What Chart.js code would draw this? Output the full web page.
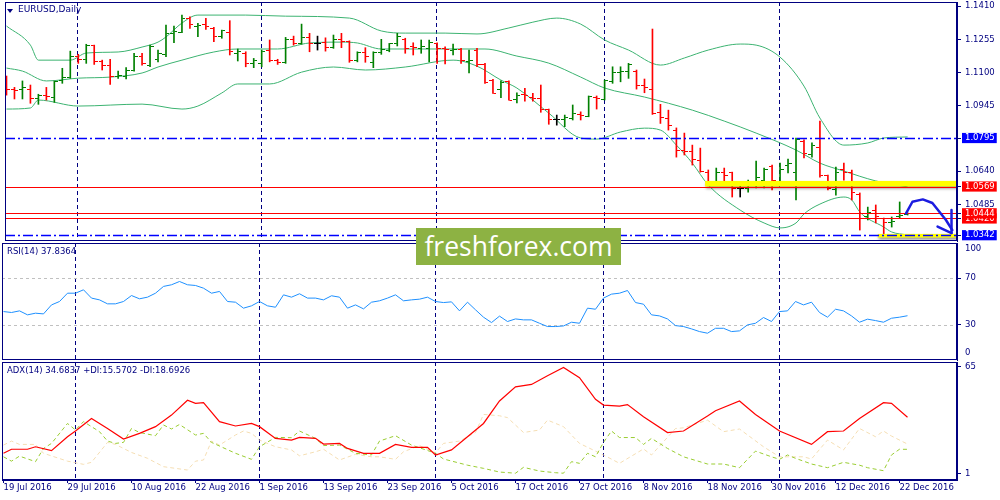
<!DOCTYPE html>
<html>
<head>
<meta charset="utf-8">
<title>EURUSD Daily</title>
<script src="https://cdn.jsdelivr.net/npm/chart.js@4.4.1/dist/chart.umd.min.js"></script>
<style>
  html, body { margin: 0; padding: 0; background: #fff; }
  #stage { position: relative; width: 1000px; height: 500px; overflow: hidden; background: #fff; font-family: "DejaVu Sans", sans-serif; }
  .pane { position: absolute; left: 0; width: 1000px; }
  .hdr { position: absolute; font-size: 8.5px; color: #000080; white-space: nowrap; line-height: 11px; }
  #tri { position: absolute; left: 7px; top: 9px; width: 0; height: 0; border-left: 3px solid transparent; border-right: 3px solid transparent; border-top: 4px solid #000080; }
  #wm { position: absolute; left: 416px; top: 228px; width: 205px; height: 37px; background: #8db243; color: #fff; font-family: "Open Sans", sans-serif; font-size: 26.5px; line-height: 37px; text-align: center; }
</style>
</head>
<body>
<div id="stage">
  <div class="pane" style="top:-10px;height:263px"><canvas id="priceChart"></canvas></div>
  <div class="pane" style="top:231px;height:141px"><canvas id="rsiChart"></canvas></div>
  <div class="pane" style="top:350px;height:150px"><canvas id="adxChart"></canvas></div>
  <div id="tri"></div>
  <div class="hdr" style="left:18px;top:4px;font-size:9px">EURUSD,Daily</div>
  <div class="hdr" style="left:7px;top:246px">RSI(14) 37.8364</div>
  <div class="hdr" style="left:7px;top:365px">ADX(14) 34.6837 +DI:15.5702 -DI:18.6926</div>
  <div id="wm">freshforex.com</div>
</div>
<script>
// dates on the time axis, one label every 8 bars
var dateLabels = ["19 Jul 2016", "29 Jul 2016", "10 Aug 2016", "22 Aug 2016", "1 Sep 2016",
  "13 Sep 2016", "23 Sep 2016", "5 Oct 2016", "17 Oct 2016", "27 Oct 2016", "8 Nov 2016",
  "18 Nov 2016", "30 Nov 2016", "12 Dec 2016", "22 Dec 2016"];
var monthStarts = [9, 32, 54, 75, 97];

// daily EURUSD bars
var opens = [1.1031,1.1022,1.1022,1.1019,1.0977,1.0992,1.0985,1.1065,1.1078,1.1174,
  1.1162,1.1225,1.1150,1.1135,1.1084,1.1081,1.1112,1.1177,1.1135,1.1162,
  1.1182,1.1283,1.1288,1.1353,1.1317,1.1326,1.1306,1.1267,1.1288,1.1190,
  1.1190,1.1143,1.1143,1.1202,1.1158,1.1148,1.1255,1.1236,1.1264,1.1236,
  1.1239,1.1216,1.1252,1.1244,1.1158,1.1194,1.1148,1.1192,1.1205,1.1236,
  1.1255,1.1220,1.1213,1.1213,1.1236,1.1213,1.1205,1.1208,1.1150,1.1205,
  1.1138,1.1061,1.1019,1.1057,1.0975,1.0999,1.0983,1.0977,1.0929,1.0883,
  1.0883,1.0887,1.0905,1.0897,1.0985,1.0975,1.1057,1.1099,1.1104,1.1104,
  1.1042,1.1019,1.0913,1.0887,1.0832,1.0739,1.0730,1.0692,1.0636,1.0590,
  1.0632,1.0632,1.0562,1.0562,1.0590,1.0599,1.0660,1.0590,1.0669,1.0632,
  1.0781,1.0720,1.0753,1.0618,1.0557,1.0646,1.0636,1.0534,1.0427,1.0459,
  1.0422,1.0399,1.0427,1.0440];
var highs = [1.1084,1.1031,1.1061,1.1042,1.0999,1.1031,1.1061,1.1120,1.1200,1.1185,
  1.1232,1.1228,1.1158,1.1162,1.1107,1.1123,1.1190,1.1190,1.1228,1.1205,
  1.1321,1.1317,1.1368,1.1360,1.1329,1.1353,1.1311,1.1298,1.1342,1.1210,
  1.1197,1.1166,1.1205,1.1252,1.1162,1.1264,1.1270,1.1326,1.1283,1.1270,
  1.1262,1.1275,1.1283,1.1248,1.1197,1.1216,1.1197,1.1255,1.1236,1.1283,
  1.1260,1.1239,1.1252,1.1252,1.1239,1.1220,1.1233,1.1213,1.1205,1.1213,
  1.1143,1.1068,1.1061,1.1061,1.1006,1.1027,1.1003,1.1042,1.0930,1.0902,
  1.0902,1.0949,1.0917,1.0991,1.0991,1.1065,1.1127,1.1127,1.1143,1.1112,
  1.1070,1.1303,1.0952,1.0925,1.0842,1.0818,1.0762,1.0748,1.0646,1.0655,
  1.0655,1.0636,1.0585,1.0599,1.0688,1.0655,1.0669,1.0678,1.0697,1.0795,
  1.0786,1.0772,1.0874,1.0622,1.0660,1.0678,1.0646,1.0539,1.0473,1.0483,
  1.0422,1.0427,1.0497,1.0446];
var lows = [1.0995,1.0977,1.0977,1.0957,1.0952,1.0972,1.0961,1.1050,1.1073,1.1143,
  1.1143,1.1138,1.1112,1.1045,1.1073,1.1070,1.1107,1.1135,1.1127,1.1150,
  1.1174,1.1239,1.1286,1.1306,1.1267,1.1301,1.1244,1.1260,1.1182,1.1154,
  1.1127,1.1123,1.1127,1.1150,1.1138,1.1143,1.1228,1.1232,1.1197,1.1205,
  1.1200,1.1213,1.1216,1.1148,1.1150,1.1148,1.1123,1.1185,1.1197,1.1224,
  1.1190,1.1182,1.1190,1.1150,1.1143,1.1140,1.1182,1.1143,1.1099,1.1127,
  1.1050,1.1003,1.0983,1.0972,1.0959,1.0967,1.0967,1.0915,1.0859,1.0855,
  1.0848,1.0879,1.0879,1.0894,1.0930,1.0972,1.1050,1.1057,1.1073,1.1023,
  1.1006,1.0905,1.0863,1.0832,1.0706,1.0716,1.0669,1.0636,1.0576,1.0585,
  1.0585,1.0520,1.0520,1.0543,1.0562,1.0562,1.0553,1.0576,1.0632,1.0506,
  1.0702,1.0706,1.0613,1.0553,1.0529,1.0599,1.0506,1.0366,1.0413,1.0399,
  1.0343,1.0380,1.0422,1.0436];
var closes = [1.1019,1.1015,1.1031,1.0977,1.0992,1.0987,1.1057,1.1078,1.1174,1.1162,
  1.1225,1.1150,1.1135,1.1084,1.1088,1.1112,1.1177,1.1143,1.1220,1.1190,
  1.1283,1.1290,1.1353,1.1326,1.1321,1.1317,1.1267,1.1294,1.1197,1.1197,
  1.1143,1.1158,1.1197,1.1158,1.1146,1.1255,1.1236,1.1264,1.1236,1.1236,
  1.1216,1.1255,1.1244,1.1158,1.1194,1.1174,1.1192,1.1208,1.1236,1.1267,
  1.1213,1.1216,1.1220,1.1241,1.1213,1.1208,1.1207,1.1154,1.1154,1.1138,
  1.1054,1.1003,1.1053,1.0972,1.0995,1.0991,1.0977,1.0929,1.0882,1.0883,
  1.0891,1.0910,1.0899,1.0987,1.0980,1.1062,1.1099,1.1104,1.1140,1.1042,
  1.1031,1.0910,1.0890,1.0852,1.0739,1.0730,1.0697,1.0641,1.0590,1.0632,
  1.0622,1.0562,1.0562,1.0590,1.0613,1.0646,1.0599,1.0646,1.0678,1.0790,
  1.0725,1.0762,1.0618,1.0562,1.0636,1.0636,1.0539,1.0422,1.0450,1.0427,
  1.0399,1.0408,1.0436,1.0444];

// Bollinger bands, read at the bars where they bend
var upperIdx = [0,3,4,8,10,14,17,19,20,22,24,30,35,43,47,50,55,59,63,66,69,72,75,78,82,85,88,92,94,97,100,102,105,108,110,113];
var upperVal = [1.1317,1.1228,1.1158,1.1158,1.1191,1.1196,1.1219,1.1242,1.1266,1.1331,1.1368,1.1368,1.1363,1.1354,1.1294,1.1284,1.1284,1.1280,1.1308,1.1335,1.1354,1.1326,1.1252,1.1205,1.1135,1.1168,1.1205,1.1233,1.1228,1.1172,1.1037,1.0888,1.0762,1.0772,1.0795,1.0800];
var middleIdx = [0,2,5,9,13,17,19,22,26,29,34,38,42,44,47,55,60,64,68,72,75,80,86,90,94,99,102,105,109,113];
var middleVal = [1.1121,1.1107,1.1061,1.1074,1.1079,1.1098,1.1126,1.1158,1.1196,1.1210,1.1210,1.1238,1.1242,1.1238,1.1210,1.1210,1.1210,1.1177,1.1144,1.1079,1.1028,1.0986,1.0925,1.0874,1.0818,1.0739,1.0678,1.0641,1.0595,1.0567];
var lowerIdx = [0,3,4,9,17,22,24,27,29,33,37,41,45,50,56,59,62,64,68,72,74,77,80,82,84,86,88,92,95,97,99,100,102,105,106,107,110,111,113];
var lowerVal = [1.0930,1.0935,1.0972,1.0944,1.0953,1.0930,1.0944,1.1005,1.1047,1.1047,1.1102,1.1126,1.1112,1.1126,1.1158,1.1130,1.1065,1.1028,1.0911,1.0795,1.0790,1.0823,1.0841,1.0832,1.0762,1.0678,1.0576,1.0459,1.0399,1.0376,1.0399,1.0441,1.0487,1.0520,1.0506,1.0450,1.0380,1.0357,1.0343];

// support / resistance levels and right scale
var redLevels = [1.0569, 1.0444, 1.0420];
var blueLevels = [1.0795, 1.0342];
var priceTicks = [1.0342, 1.0420, 1.0444, 1.0485, 1.0569, 1.0640, 1.0795, 1.0945, 1.1100, 1.1255, 1.1410];
var redBoxes = [1.0569, 1.0444, 1.0420];
var blueBoxes = [1.0795, 1.0342];

// yellow marker zones: start bar, top price, bottom price
var zoneStart = [87.6, 109.25];
var zoneTop = [1.0595, 1.0348];
var zoneBottom = [1.0569, 1.0331];

// hand drawn forecast arrow, in bar / price units
var arrowPath = [[112.8,1.0444],[113.6,1.0498],[114.9,1.0509],[116.1,1.0492],[117.8,1.0413],[118.6,1.0366]];
var arrowHeadA = [[118.5,1.0459],[118.5,1.0352]];
var arrowHeadB = [[116.75,1.0382],[118.5,1.0352]];

// RSI(14), one value per bar
var rsi = [41.4,40.6,42.0,38.6,40.0,39.4,47.1,50.0,57.1,57.1,
  60.0,52.9,51.4,48.0,48.0,50.0,55.1,52.3,53.7,57.1,
  62.9,64.3,67.1,64.3,63.7,61.4,57.1,58.6,50.0,49.4,
  44.3,46.3,50.0,46.3,45.1,55.7,53.7,56.6,52.9,52.9,
  51.4,54.9,53.7,44.3,47.1,43.7,49.4,50.6,52.9,55.7,
  50.6,51.4,52.0,53.7,50.0,49.1,49.7,42.0,49.4,42.9,
  36.6,32.0,37.5,32.9,35.1,34.3,34.3,31.4,28.6,28.6,
  29.1,32.3,31.4,44.3,43.4,52.9,56.3,57.1,59.4,49.1,
  47.7,38.6,37.7,35.1,29.4,28.6,26.6,24.3,22.9,27.1,
  27.1,24.3,24.9,30.0,31.4,36.3,32.9,41.4,42.0,50.0,
  47.1,49.4,40.6,36.6,43.4,42.0,37.7,32.3,34.9,33.7,
  32.3,35.7,36.6,37.84];
var rsiLevels = [70, 30];

// ADX(14) with +DI / -DI
var adxIdx = [0,1,3,4,6,8,9,11,13,15,17,19,21,23,24,25,27,29,31,32,34,36,37,39,40,42,43,45,47,49,51,53,54,56,58,60,62,64,66,68,70,72,74,75,77,78,80,83,85,88,89,92,94,97,101,103,105,107,110,111,113];
var adxVal = [13.2,15.6,15.6,17.1,14.8,23.1,26.5,34.0,28.0,21.7,25.1,29.1,36.0,44.9,43.0,43.4,32.1,29.5,31.0,29.1,22.1,21.1,22.7,22.1,18.7,19.1,16.1,13.2,13.2,18.5,16.7,16.7,12.2,15.2,23.1,31.0,44.4,52.9,54.3,59.5,64.4,58.3,45.4,42.0,41.4,42.3,35.0,25.6,26.5,35.4,38.6,44.4,36.4,26.5,18.5,26.1,26.5,34.0,43.4,43.0,34.68];
var pdiIdx = [0,1,2,4,5,6,8,9,10,12,13,14,15,16,17,19,20,21,22,24,25,26,29,31,32,34,36,37,39,40,42,44,46,47,49,51,52,54,55,58,60,62,64,65,67,69,70,71,72,73,74,75,76,77,79,80,81,83,85,88,90,92,94,96,97,98,99,101,103,105,107,108,110,111,112,113];
var pdiVal = [11.1,8.5,11.5,8.2,16.1,19.1,31.0,27.1,32.1,26.1,20.5,19.1,19.7,28.0,25.6,23.7,30.1,27.7,30.4,24.1,25.1,19.7,13.2,9.6,17.1,22.7,22.5,26.5,22.1,17.8,18.1,13.2,12.2,20.5,23.7,18.1,16.5,13.2,9.8,6.1,4.2,2.0,1.3,4.8,2.6,1.6,1.3,8.2,7.2,13.2,11.1,19.7,26.5,22.6,22.6,18.5,22.1,16.1,11.1,6.8,6.8,4.6,14.5,11.1,9.6,12.2,10.2,6.8,4.6,7.8,6.1,4.6,2.8,12.2,15.6,15.57];
var mdiIdx = [0,1,2,4,5,8,10,11,13,14,16,18,20,23,24,25,26,27,29,30,31,32,34,36,37,39,40,42,44,46,47,49,50,52,54,55,57,59,60,62,63,65,67,68,70,72,75,77,80,81,84,85,88,90,92,95,97,100,101,103,105,107,109,110,111,113];
var mdiVal = [18.1,20.5,18.5,18.5,13.2,8.5,6.6,7.8,19.7,18.5,13.7,10.2,5.2,3.2,8.5,9.2,20.5,18.1,24.1,26.5,25.1,21.1,17.1,15.2,11.7,14.1,15.6,9.2,12.6,11.1,11.1,9.6,14.1,17.8,13.5,19.1,20.5,25.6,36.4,35.6,34.5,25.6,27.1,33.0,29.1,19.1,12.2,7.2,15.8,12.2,28.0,28.4,33.0,26.1,27.7,17.1,11.1,11.1,9.8,21.1,15.2,28.0,23.1,26.5,23.5,18.69];

var NAVY = "#000080";
var GREEN = "#008000", RED = "#ff0000", BLACK = "#000000";
var AXIS_FONT = { family: "DejaVu Sans", size: 8.5 };
var X_MIN = -0.1875, X_MAX = 119.1875;

function pts(idx, val) {
  return idx.map(function (x, k) { return { x: x, y: val[k] }; });
}
function barColor(i) {
  if (closes[i] > opens[i]) return GREEN;
  if (closes[i] < opens[i]) return RED;
  return BLACK;
}

// little open / close ticks used as point images
function tickImage(color, side) {
  var c = document.createElement("canvas");
  c.width = 7; c.height = 1;
  var g = c.getContext("2d");
  g.fillStyle = color;
  if (side === "open") g.fillRect(0, 0, 3, 1); else g.fillRect(4, 0, 3, 1);
  return c;
}
var tickImgs = {};
[GREEN, RED, BLACK].forEach(function (col) {
  tickImgs[col] = { open: tickImage(col, "open"), close: tickImage(col, "close") };
});

function drawSeparators(chart) {
  var ctx = chart.ctx, a = chart.chartArea, x = chart.scales.x;
  ctx.save();
  ctx.strokeStyle = NAVY;
  ctx.lineWidth = 1;
  ctx.setLineDash([4, 3]);
  monthStarts.forEach(function (i) {
    var px = Math.round(x.getPixelForValue(i)) - 0.5;
    ctx.beginPath(); ctx.moveTo(px, a.top); ctx.lineTo(px, a.bottom); ctx.stroke();
  });
  ctx.restore();
}
function drawFrame(chart) {
  var ctx = chart.ctx, a = chart.chartArea;
  ctx.save();
  ctx.strokeStyle = NAVY;
  ctx.lineWidth = 1;
  ctx.strokeRect(Math.round(a.left) + 0.5, Math.round(a.top) + 0.5,
    Math.round(a.right - a.left) - 1, Math.round(a.bottom - a.top) - 1);
  ctx.restore();
}
function hLine(ctx, a, py, color, dash, width) {
  py = Math.round(py) + 0.5;
  ctx.strokeStyle = color;
  ctx.lineWidth = width;
  ctx.setLineDash(dash);
  ctx.beginPath(); ctx.moveTo(a.left, py); ctx.lineTo(a.right, py); ctx.stroke();
}

var mainDecor = {
  id: "mainDecor",
  beforeDatasetsDraw: function (chart) { drawSeparators(chart); },
  afterDatasetsDraw: function (chart) {
    var ctx = chart.ctx, a = chart.chartArea, x = chart.scales.x, y = chart.scales.y;
    ctx.save();
    ctx.beginPath(); ctx.rect(a.left, a.top, a.right - a.left, a.bottom - a.top); ctx.clip();
    // yellow zones
    zoneStart.forEach(function (s, k) {
      var x0 = x.getPixelForValue(s), y0 = y.getPixelForValue(zoneTop[k]), y1 = y.getPixelForValue(zoneBottom[k]);
      ctx.save();
      ctx.shadowColor = "rgba(0,0,0,0.45)";
      ctx.shadowBlur = 3; ctx.shadowOffsetX = 1; ctx.shadowOffsetY = 2;
      ctx.fillStyle = "#ffff00";
      ctx.fillRect(x0, y0, a.right - x0, y1 - y0);
      ctx.restore();
    });
    redLevels.forEach(function (v) { hLine(ctx, a, y.getPixelForValue(v), RED, [], 1); });
    blueLevels.forEach(function (v) { hLine(ctx, a, y.getPixelForValue(v), "#0000ff", [10, 3, 2, 3], 1.5); });
    // forecast arrow
    ctx.setLineDash([]);
    ctx.strokeStyle = "#1c1ce0";
    ctx.lineWidth = 2.5;
    ctx.lineJoin = "round"; ctx.lineCap = "round";
    [arrowPath, arrowHeadA, arrowHeadB].forEach(function (path) {
      ctx.beginPath();
      path.forEach(function (p, k) {
        var px = x.getPixelForValue(p[0]), py = y.getPixelForValue(p[1]);
        if (k === 0) ctx.moveTo(px, py); else ctx.lineTo(px, py);
      });
      ctx.stroke();
    });
    ctx.restore();
  },
  afterDraw: function (chart) { drawFrame(chart); }
};

var rsiDecor = {
  id: "rsiDecor",
  beforeDatasetsDraw: function (chart) {
    var ctx = chart.ctx, a = chart.chartArea, y = chart.scales.y;
    drawSeparators(chart);
    ctx.save();
    rsiLevels.forEach(function (v) { hLine(ctx, a, y.getPixelForValue(v), "#c0c0c0", [3, 3], 1); });
    ctx.restore();
  },
  afterDraw: function (chart) {
    var ctx = chart.ctx, a = chart.chartArea;
    drawFrame(chart);
    ctx.save();
    ctx.fillStyle = NAVY;
    ctx.font = "8.5px 'DejaVu Sans'";
    ctx.textBaseline = "middle";
    ctx.fillText("100", a.right + 8, a.top + 6);
    ctx.fillText("0", a.right + 8, a.bottom - 7);
    ctx.restore();
  }
};

var adxDecor = {
  id: "adxDecor",
  beforeDatasetsDraw: function (chart) { drawSeparators(chart); },
  afterDraw: function (chart) { drawFrame(chart); }
};

function rightAxis(min, max, ticks, extra) {
  var ax = {
    position: "right",
    min: min, max: max,
    afterBuildTicks: function (s) { s.ticks = ticks.map(function (v) { return { value: v }; }); },
    afterFit: function (s) { s.width = 43; },
    grid: { drawOnChartArea: false, color: NAVY, tickLength: 4 },
    border: { color: NAVY },
    ticks: { autoSkip: false, font: AXIS_FONT, color: NAVY, padding: 4 }
  };
  if (extra) Object.assign(ax.ticks, extra);
  return ax;
}
function hiddenX() {
  return { type: "linear", display: false, min: X_MIN, max: X_MAX, offset: false };
}
var common = {
  responsive: true,
  maintainAspectRatio: false,
  animation: false,
  events: [],
  plugins: { legend: { display: false }, tooltip: { enabled: false } }
};

// price panel
var barData = highs.map(function (h, i) { return { x: i, y: [lows[i], h] }; });
new Chart(document.getElementById("priceChart"), {
  type: "bar",
  data: {
    datasets: [
      { type: "bar", data: barData, barThickness: 1, backgroundColor: highs.map(function (h, i) { return barColor(i); }) },
      { type: "line", showLine: false, data: opens.map(function (v, i) { return { x: i, y: v }; }), pointRadius: 3,
        pointStyle: function (c) { return tickImgs[barColor(c.dataIndex)].open; } },
      { type: "line", showLine: false, data: closes.map(function (v, i) { return { x: i, y: v }; }), pointRadius: 3,
        pointStyle: function (c) { return tickImgs[barColor(c.dataIndex)].close; } },
      { type: "line", data: pts(upperIdx, upperVal), borderColor: "#3cb371", borderWidth: 1, pointRadius: 0, cubicInterpolationMode: "monotone" },
      { type: "line", data: pts(middleIdx, middleVal), borderColor: "#3cb371", borderWidth: 1, pointRadius: 0, cubicInterpolationMode: "monotone" },
      { type: "line", data: pts(lowerIdx, lowerVal), borderColor: "#3cb371", borderWidth: 1, pointRadius: 0, cubicInterpolationMode: "monotone" }
    ]
  },
  options: Object.assign({}, common, {
    layout: { padding: { left: 2, right: 0, top: 12, bottom: 12 } },
    scales: {
      x: hiddenX(),
      y: rightAxis(1.0315, 1.1429, priceTicks, {
        callback: function (v) { return Number(v).toFixed(4); },
        color: function (c) {
          var v = c.tick.value;
          return (redBoxes.indexOf(v) >= 0 || blueBoxes.indexOf(v) >= 0) ? "#ffffff" : NAVY;
        },
        showLabelBackdrop: function (c) {
          var v = c.tick.value;
          return redBoxes.indexOf(v) >= 0 || blueBoxes.indexOf(v) >= 0;
        },
        backdropColor: function (c) {
          return redBoxes.indexOf(c.tick.value) >= 0 ? RED : "#0000ff";
        },
        backdropPadding: { left: 3, right: 2, top: 0, bottom: 0 }
      })
    }
  }),
  plugins: [mainDecor]
});

// RSI panel
new Chart(document.getElementById("rsiChart"), {
  type: "line",
  data: {
    datasets: [
      { data: rsi.map(function (v, i) { return { x: i, y: v }; }), borderColor: "#1e90ff", borderWidth: 1, pointRadius: 0 }
    ]
  },
  options: Object.assign({}, common, {
    layout: { padding: { left: 2, right: 0, top: 12, bottom: 12 } },
    scales: { x: hiddenX(), y: rightAxis(0, 100, rsiLevels) }
  }),
  plugins: [rsiDecor]
});

// ADX panel
var xAdx = {
  type: "linear", min: X_MIN, max: X_MAX, offset: false,
  afterBuildTicks: function (s) { s.ticks = dateLabels.map(function (d, k) { return { value: k * 8 }; }); },
  afterFit: function (s) { s.height = 14; },
  grid: { drawOnChartArea: false, color: NAVY, tickLength: 3 },
  border: { color: NAVY },
  ticks: {
    autoSkip: false, maxRotation: 0, align: "start", padding: 0, font: AXIS_FONT, color: NAVY,
    callback: function (v) { return dateLabels[Math.round(v / 8)]; }
  }
};
new Chart(document.getElementById("adxChart"), {
  type: "line",
  data: {
    datasets: [
      { data: pts(adxIdx, adxVal), borderColor: "#ff0000", borderWidth: 1.2, pointRadius: 0 },
      { data: pts(pdiIdx, pdiVal), borderColor: "#9acd32", borderWidth: 1, borderDash: [4, 3], pointRadius: 0 },
      { data: pts(mdiIdx, mdiVal), borderColor: "#f5deb3", borderWidth: 1, borderDash: [4, 3], pointRadius: 0 }
    ]
  },
  options: Object.assign({}, common, {
    layout: { padding: { left: 2, right: 0, top: 12, bottom: 6 } },
    scales: { x: xAdx, y: rightAxis(-2.75, 67.7, [65, 1]) }
  }),
  plugins: [adxDecor]
});
</script>
</body>
</html>
